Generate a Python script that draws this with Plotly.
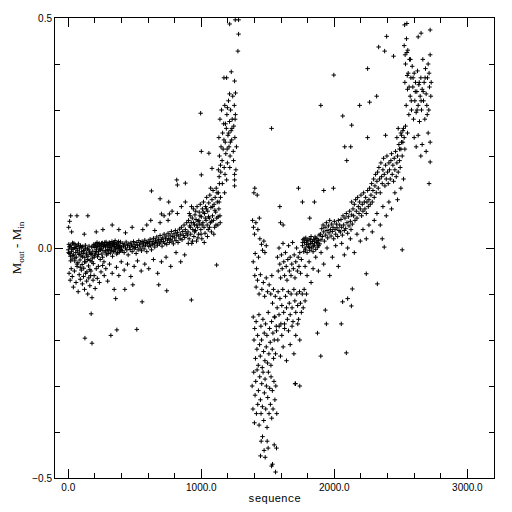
import plotly.graph_objects as go

# ---- data: (sequence, M_out - M_in) pairs ----
band_early = [
(0,-.004),(4,.008),(8,-.012),(12,.002),(16,-.018),(20,.006),(24,-.008),(28,-.024),(32,.011),(36,-.003),(40,-.015),(44,.001),(48,-.028),(52,.007),(56,-.01),(60,-.02),(64,.004),(68,-.006),(72,-.032),(76,.009),(80,-.014),(84,-.002),(88,-.026),(92,.005),(96,-.017),
(100,-.008),(104,-.036),(108,.003),(112,-.012),(116,-.044),(120,-.005),(124,-.021),(128,.006),(132,-.03),(136,-.011),(140,-.052),(144,-.002),(148,-.018),(152,-.039),(156,.004),(160,-.009),(164,-.027),(168,-.06),(172,-.014),(176,.002),(180,-.022),(184,-.007),(188,-.034),(192,.008),(196,-.016),
(200,.001),(204,-.011),(208,.009),(212,-.004),(216,.012),(220,-.019),(224,.003),(228,-.008),(232,.01),(236,-.002),(240,-.025),(244,.006),(248,.0),(252,-.013),(256,.011),(260,-.005),(264,.004),(268,-.03),(272,.008),(276,-.009),(280,.002),(284,.013),(288,-.015),(292,.005),(296,-.003),
(300,.009),(304,-.006),(308,.012),(312,.001),(316,-.011),(320,.007),(324,-.002),(328,.014),(332,-.018),(336,.004),(340,.01),(344,-.007),(348,.003),(352,.016),(356,-.004),(360,.008),(364,-.013),(368,.002),(372,.011),(376,-.001),(380,.006),(384,-.009),(388,.004),(392,.013),(396,-.003),
(2,-.01),(10,.003),(18,-.028),(26,-.002),(34,-.016),(42,.01),(50,-.022),(58,-.001),(66,-.035),(74,.004),(82,-.011),(90,-.042),(98,.002),(106,-.019),(114,-.006),(122,-.03),(130,.0),(138,-.015),(146,-.025),(154,-.004),(162,-.047),(170,-.012),(178,-.03),(186,.004),(194,-.02),
(202,.006),(210,-.008),(218,.004),(226,-.014),(234,.007),(242,-.004),(250,.01),(258,-.02),(266,.003),(274,.012),(282,-.006),(290,.008),(298,-.012),(306,.004),(314,.01),(322,-.005),(330,.006),(338,-.008),(346,.012),(354,.0),(362,.007),(370,-.01),(378,.014),(386,.002),(394,-.006),
]
band_mid = [
(400,.002),(405,-.006),(410,.01),(415,.004),(420,-.01),(425,.007),(430,.0),(435,.013),(440,-.004),(445,.005),(450,-.015),(455,.009),(460,.002),(465,-.003),(470,.011),(475,.006),(480,-.008),(485,.003),(490,.014),(495,-.002),
(500,.008),(505,.001),(510,-.012),(515,.012),(520,.005),(525,-.004),(530,.016),(535,.007),(540,.0),(545,.011),(550,-.006),(555,.014),(560,.004),(565,.009),(570,-.002),(575,.017),(580,.006),(585,.012),(590,-.008),(595,.01),
(600,.015),(605,.003),(610,.011),(615,.019),(620,.005),(625,-.004),(630,.014),(635,.008),(640,.021),(645,.01),(650,.002),(655,.017),(660,.012),(665,.024),(670,.006),(675,.015),(680,.019),(685,.009),(690,.027),(695,.013),
(700,.018),(705,.004),(710,.022),(715,.014),(720,.03),(725,.01),(730,.02),(735,.026),(740,.008),(745,.017),(750,.032),(755,.021),(760,.012),(765,.028),(770,.019),(775,.036),(780,.015),(785,.025),(790,.009),(795,.031),
(800,.022),(805,.038),(810,.016),(815,.028),(820,.034),(825,.012),(830,.026),(835,.041),(840,.02),(845,.03),(850,.045),(855,.018),(860,.036),(865,.027),(870,.05),(875,.023),(880,.04),(885,.032),(890,.055),(895,.028),
]
scatter_early = [
(6,-.055),(14,-.07),(22,-.045),(30,-.062),(38,-.085),(46,-.05),(58,-.075),(66,-.04),(74,-.095),(82,-.058),(90,-.068),(98,-.048),(106,-.078),(114,-.062),(122,-.09),(130,-.055),(138,-.072),(146,-.1),(154,-.065),(162,-.082),(170,-.05),(178,-.108),(186,-.07),(194,-.06),(202,-.088),(210,-.045),(218,-.066),(226,-.04),(234,-.075),(246,-.052),(258,-.038),(270,-.06),(282,-.045),(296,-.072),(310,-.035),(330,-.055),(345,-.09),(362,-.042),(380,-.06),(398,-.03),(420,-.048),(445,-.035),(470,-.062),(495,-.04),(520,-.028),(548,-.05),(575,-.035),(605,-.045),(640,-.025),(672,-.055),(700,-.03),(735,-.02),(770,-.04),(810,-.01),(845,-.03),(875,-.015),
(3,.045),(10,.058),(18,.07),(25,.035),(65,.07),(147,.07),(120,.03),(210,.035),(260,.04),(330,.05),(380,.04),(430,.033),(480,.045),(560,.04),(590,.05),(620,.06),(650,.038),(690,.055),(720,.07),(750,.06),(780,.08),(820,.075),(850,.09),(880,.1),
(125,-.196),(178,-.207),(172,-.143),(320,-.19),(365,-.178),(515,-.177),(356,-.11),(555,-.117),(925,-.113),(425,-.09),(485,-.08),(680,-.08),(740,-.093),(1115,-.037),
(625,.124),(690,.107),(755,.1),(815,.148),(880,.141),(820,.137),(700,.074),(760,.074),
]
rise_first = [
(900,.035),(904,.06),(908,.02),(912,.048),(916,.07),(920,.03),(924,.055),(928,.01),(932,.065),(936,.04),(940,.085),(944,.025),(948,.05),(952,.072),(956,.038),(960,.062),(964,.015),(968,.09),(972,.045),(976,.058),(980,.03),(984,.078),(988,.052),(992,.095),(996,.04),
(1000,.068),(1004,.02),(1008,.085),(1012,.055),(1016,.1),(1020,.045),(1024,.075),(1028,.032),(1032,.09),(1036,.06),(1040,.11),(1044,.05),(1048,.08),(1052,.04),(1056,.098),(1060,.065),(1064,.115),(1068,.055),(1072,.088),(1076,.035),(1080,.105),(1084,.07),(1088,.125),(1092,.06),(1096,.095),
(1100,.045),(1104,.11),(1108,.078),(1112,.13),(1116,.065),(1120,.1),(1124,.05),(1128,.12),(1132,.085),(1136,.14),(1140,.07),(1144,.11),
(902,.01),(910,.075),(918,.045),(926,.09),(934,.015),(942,.055),(950,.035),(958,.08),(966,.05),(974,.022),(982,.06),(990,.07),(998,.03),(1006,.05),(1014,.078),(1022,.012),(1030,.065),(1038,.085),(1046,.025),(1054,.068),(1062,.045),(1070,.13),(1078,.058),(1086,.09),(1094,.03),(1102,.082),(1110,.05),(1118,.12),(1126,.068),(1134,.1),(1142,.055),
(995,.293),(1000,.21),(1057,.206),(1000,.159),(1080,.173),(1190,.148),(1250,.148),(1250,.135),(1175,.12),
]
rise_steep = [
(1128,.17),(1132,.24),(1136,.2),(1140,.28),(1144,.18),(1148,.22),(1152,.3),(1156,.19),(1160,.25),(1164,.215),(1168,.27),(1172,.175),(1176,.31),(1180,.23),(1184,.205),(1188,.26),(1192,.29),(1196,.185),(1200,.245),(1204,.32),(1208,.22),(1212,.275),(1216,.2),(1220,.3),(1224,.255),(1228,.235),(1232,.28),(1236,.33),(1240,.21),(1244,.265),(1248,.31),(1252,.24),(1256,.29),(1260,.17),(1264,.22),
(1134,.155),(1146,.165),(1158,.14),(1170,.235),(1182,.27),(1194,.215),(1206,.25),(1218,.23),(1230,.26),(1242,.19),(1254,.28),(1178,.16),(1214,.175),(1250,.16),(1196,.305),(1212,.335),
(1170,.37),(1190,.37),(1250,.363),(1257,.337),(1225,.383),(1275,.428),(1280,.465),(1213,.487),(1255,.496),(1280,.496),
]
dip = [
(1385,.06),(1392,.045),(1400,.03),(1410,.055),(1425,.04),(1436,.065),(1395,.12),(1402,.13),(1420,.115),(1440,.02),(1452,.008),(1460,-.005),(1470,.015),(1478,-.01),(1488,.005),(1390,-.03),(1405,-.012),(1415,-.045),(1430,-.02),
(1402,-.06),(1412,-.085),(1422,-.07),(1434,-.1),(1444,-.058),(1455,-.09),(1466,-.075),(1476,-.105),(1488,-.065),(1498,-.095),(1510,-.08),(1522,-.1),(1530,-.06),
(1390,-.15),(1396,-.2),(1401,-.175),(1407,-.24),(1412,-.16),(1418,-.22),(1423,-.19),(1428,-.255),(1433,-.145),(1438,-.21),(1443,-.235),(1448,-.17),(1453,-.2),(1458,-.26),(1463,-.155),(1468,-.225),(1473,-.185),(1478,-.245),(1483,-.165),(1488,-.215),(1493,-.19),(1498,-.25),(1503,-.14),(1508,-.23),(1513,-.175),(1518,-.205),(1523,-.255),(1528,-.16),(1533,-.22),(1538,-.185),(1543,-.24),(1548,-.2),(1553,-.15),(1558,-.23),(1565,-.18),
(1382,-.3),(1388,-.35),(1394,-.27),(1399,-.38),(1404,-.32),(1409,-.29),(1414,-.36),(1419,-.265),(1424,-.34),(1429,-.31),(1434,-.385),(1439,-.28),(1444,-.33),(1449,-.36),(1454,-.295),(1459,-.345),(1464,-.27),(1469,-.375),(1474,-.315),(1479,-.285),(1484,-.35),(1489,-.3),(1494,-.39),(1499,-.325),(1504,-.27),(1509,-.36),(1514,-.305),(1519,-.34),(1524,-.28),(1529,-.37),(1534,-.31),(1539,-.35),(1546,-.29),(1553,-.33),(1560,-.3),(1567,-.36),
(1445,-.452),(1450,-.42),(1460,-.41),(1472,-.44),(1495,-.42),(1502,-.435),(1528,-.474),(1535,-.47),(1558,-.487),(1565,-.435),(1548,-.428),(1480,-.455),
(1575,-.2),(1585,-.17),(1595,-.235),(1605,-.19),(1615,-.215),(1625,-.165),(1640,-.245),(1655,-.18),(1668,-.21),(1682,-.17),(1696,-.23),(1710,-.19),(1725,-.165),(1740,-.2),(1705,-.295),(1740,-.3),
(1535,-.12),(1542,-.09),(1549,-.15),(1556,-.105),(1563,-.17),(1570,-.13),(1577,-.095),(1584,-.145),(1591,-.11),(1598,-.165),(1605,-.125),(1612,-.09),(1619,-.14),(1626,-.175),(1633,-.105),(1640,-.13),(1647,-.155),(1654,-.095),(1661,-.12),(1668,-.145),(1675,-.1),(1682,-.13),(1689,-.16),(1696,-.09),(1703,-.115),(1710,-.14),(1717,-.1),(1724,-.125),(1731,-.155),(1738,-.095),(1745,-.12),(1752,-.14),(1759,-.1),(1766,-.13),(1773,-.09),(1780,-.115),(1790,-.1),
(1572,-.02),(1578,-.05),(1584,.0),(1590,-.035),(1596,-.065),(1602,-.015),(1608,-.045),(1614,.01),(1620,-.03),(1626,-.06),(1632,-.01),(1638,-.04),(1644,-.07),(1650,-.025),(1656,.005),(1662,-.05),(1668,-.02),(1674,-.06),(1680,-.035),(1686,.012),(1692,-.045),(1698,-.015),(1704,-.065),(1710,-.03),(1716,.0),(1722,-.05),(1728,-.02),(1734,-.04),(1740,-.01),(1746,-.055),(1752,-.025),
(1595,.055),(1615,.05),(1528,.26),
]
band_late = [
(1760,.005),(1765,.018),(1770,-.008),(1775,.012),(1780,.0),(1785,.022),(1790,.008),(1795,-.01),(1800,.015),(1805,.003),(1810,.02),(1815,-.005),(1820,.01),(1825,.025),(1830,.0),(1835,.014),(1840,-.008),(1845,.019),(1850,.006),(1855,.024),(1860,-.003),(1865,.012),(1870,.02),(1875,.002),(1880,.016),(1885,.028),(1890,.009),
(1762,.012),(1772,.02),(1782,-.004),(1792,.016),(1802,.008),(1812,.001),(1822,.018),(1832,.01),(1842,.004),(1852,.015),(1862,.021),(1872,.011),(1882,.005),
(1895,.03),(1900,.018),(1905,.042),(1910,.025),(1915,.05),(1920,.035),(1925,.015),(1930,.045),(1935,.028),(1940,.055),(1945,.038),(1950,.022),(1955,.048),(1960,.033),(1965,.06),(1970,.04),(1975,.026),(1980,.052),(1985,.036),(1990,.045),(1995,.02),(2000,.058),(2005,.04),(2010,.03),(2015,.052),(2020,.044),(2025,.025),(2030,.06),(2035,.038),(2040,.05),
(2045,.035),(2050,.062),(2055,.045),(2060,.028),(2065,.07),(2070,.05),(2075,.038),(2080,.065),(2085,.042),(2090,.075),(2095,.055),(2100,.032),(2105,.068),(2110,.048),(2115,.08),(2120,.058),(2125,.04),(2130,.072),(2135,.052),(2140,.085),
(2145,.07),(2150,.095),(2155,.06),(2160,.105),(2165,.08),(2170,.065),(2175,.11),(2180,.09),(2185,.075),(2190,.1),(2195,.085),(2200,.115),(2205,.07),(2210,.095),(2215,.08),(2220,.12),(2225,.1),(2230,.085),(2235,.11),(2240,.075),(2245,.1),(2250,.125),(2255,.09),(2260,.105),(2265,.13),(2270,.095),(2275,.115),(2280,.14),(2285,.1),(2290,.125),(2295,.15),(2300,.11),(2305,.135),(2310,.16),(2315,.12),(2320,.145),
(2325,.165),(2330,.13),(2335,.175),(2340,.15),(2345,.12),(2350,.185),(2355,.155),(2360,.14),(2365,.17),(2370,.195),(2375,.16),(2380,.135),(2385,.18),(2390,.15),(2395,.2),(2400,.165),(2405,.14),(2410,.185),(2415,.17),(2420,.15),(2425,.19),(2430,.205),(2435,.16),(2440,.18),(2445,.145),(2450,.195),(2455,.17),(2460,.21),(2465,.155),(2470,.185),(2475,.2),(2480,.165),(2485,.225),(2490,.19),(2495,.175),(2500,.215),(2505,.245),(2510,.2),(2515,.23),(2520,.26),(2525,.24),(2530,.215),
]
scatter_late = [
(1780,-.04),(1795,-.06),(1810,-.03),(1825,-.075),(1840,-.045),(1860,-.02),(1880,-.05),(1900,-.01),(1920,-.035),(1945,.0),(1965,-.06),(1985,-.02),(2010,.005),(2030,-.04),(2055,.01),(2075,-.015),(2100,.0),(2120,.02),(2150,-.01),(2170,.03),(2195,.015),(2215,.04),(2240,.02),(2260,.05),(2285,.035),(2300,.06),(2320,.075),(2345,.05),(2365,.09),(2390,.07),(2410,.1),(2430,.085),(2455,.12),(2475,.105),(2500,.13),(2520,.15),(2375,.002),(2510,-.004),(2360,.02),
(2100,-.11),(2062,-.117),(2128,-.126),(1940,-.165),(2052,-.165),(1932,-.135),(1873,-.185),(2090,-.228),(1898,-.235),(1708,-.295),(2323,-.078),(2135,-.089),(2240,-.056),
(1996,.376),(1898,.31),(2063,.287),(2130,.267),(2190,.31),(2265,.317),(2318,.33),(2250,.39),(2333,.437),(2393,.46),(2378,.428),(2445,.417),(2078,.22),(2123,.22),(2093,.19),(2250,.24),(2385,.245),(1730,.13),(1850,.1),(1920,.125),(1993,.13),(2130,.1),(1590,.09),(1760,.1),(1815,.065),
]
rise_last = [
(2525,.44),(2530,.36),(2535,.4),(2540,.31),(2545,.425),(2550,.345),(2555,.38),(2560,.29),(2565,.41),(2570,.33),(2575,.37),(2580,.3),(2585,.395),(2590,.35),(2595,.28),(2600,.38),(2605,.32),(2610,.36),(2615,.295),(2620,.34),(2625,.385),(2630,.31),(2635,.355),(2640,.275),(2645,.33),(2650,.37),(2655,.3),(2660,.345),(2665,.41),(2670,.32),(2675,.36),(2680,.28),(2685,.39),(2690,.335),(2695,.31),(2700,.37),(2705,.4),(2710,.3),(2715,.35),(2720,.42),(2725,.33),
(2532,.42),(2548,.375),(2562,.35),(2578,.32),(2592,.37),(2608,.34),(2622,.3),(2638,.36),(2652,.32),(2668,.34),(2682,.37),(2698,.29),(2712,.38),(2728,.36),(2542,.455),(2552,.43),(2572,.41),
(2470,.24),(2480,.26),(2490,.215),(2500,.25),(2505,.23),(2515,.255),(2535,.265),(2550,.25),(2600,.24),(2615,.22),(2630,.245),(2660,.225),(2690,.21),(2705,.25),(2720,.23),(2650,.2),
(2528,.485),(2545,.488),(2720,.474),(2652,.467),(2630,.459),(2720,.187),(2712,.14),
]

segments = [band_early, band_mid, scatter_early, rise_first, rise_steep, dip, band_late, scatter_late, rise_last]
seq = [p[0] for s in segments for p in s]
dm = [p[1] for s in segments for p in s]

x_tickvals = [0, 1000, 2000, 3000]
y_tickvals = [-0.5, 0.0, 0.5]

fig = go.Figure(go.Scatter(
    x=seq, y=dm, mode="markers",
    marker=dict(symbol="cross-thin", size=3.2, color="black",
                line=dict(color="black", width=1)),
    showlegend=False, hoverinfo="skip"))

axis_common = dict(showline=True, linecolor="black", linewidth=1, mirror="ticks",
                   ticks="inside", tickcolor="black", tickwidth=1, showgrid=False,
                   zeroline=False, automargin=False,
                   tickfont=dict(family="Liberation Sans", size=10, color="black"))
fig.update_xaxes(range=[-100, 3200], tickvals=x_tickvals, tickformat=".1f", ticklen=9,
                 minor=dict(dtick=200, ticks="inside", ticklen=5, tickcolor="black", showgrid=False),
                 title=dict(text="sequence", standoff=2,
                            font=dict(family="Liberation Mono", size=11, color="black")),
                 **axis_common)
fig.update_yaxes(range=[-0.5, 0.5], tickvals=y_tickvals, tickformat=".1f", ticklen=8,
                 minor=dict(dtick=0.1, ticks="inside", ticklen=5, tickcolor="black", showgrid=False),
                 title=dict(text="M<sub>out</sub> - M<sub>in</sub>", standoff=7,
                            font=dict(family="Liberation Serif", size=13, color="black")),
                 **axis_common)
fig.update_layout(width=512, height=512, margin=dict(l=47, r=26, t=10, b=42),
                  plot_bgcolor="white", paper_bgcolor="white")
fig.write_html("out.html")
